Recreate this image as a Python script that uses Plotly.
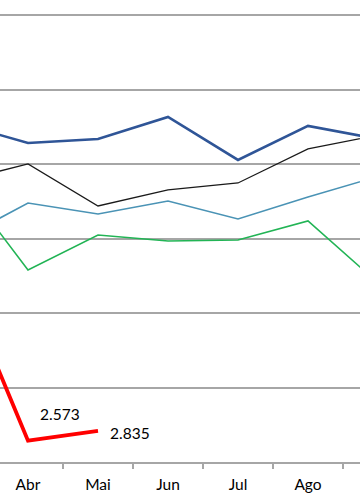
import plotly.graph_objects as go

months = ["Mar", "Abr", "Mai", "Jun", "Jul", "Ago", "Set"]

serie_azul = [11100, 10565, 10673, 11263, 10109, 11022, 10673]
serie_preta = [9531, 10001, 8874, 9303, 9491, 10404, 10780]
serie_teal = [7947, 8954, 8659, 9008, 8525, 9115, 9666]
serie_verde = [9639, 7155, 8095, 7934, 7961, 8471, 6806]
serie_vermelha = [7080, 2573, 2835]

series = [
    ("Série 1", serie_azul, "#2F5597", 2.6),
    ("Série 2", serie_preta, "#1a1a1a", 1.3),
    ("Série 3", serie_teal, "#4A93B5", 1.6),
    ("Série 4", serie_verde, "#22B455", 1.6),
    ("Série 5", serie_vermelha, "#FF0000", 3.8),
]

fig = go.Figure()
for name, vals, color, w in series:
    fig.add_trace(go.Scatter(
        x=months[:len(vals)], y=vals, name=name, mode="lines",
        line=dict(color=color, width=w), showlegend=False,
    ))

def fmt(v):
    return f"{v:,}".replace(",", ".")

label_shifts = {1: (32, 27), 2: (32, -2)}
for i, (xs, ys) in label_shifts.items():
    fig.add_annotation(
        x=months[i], y=serie_vermelha[i], text=fmt(serie_vermelha[i]),
        showarrow=False, xshift=xs, yshift=ys,
        font=dict(family="Lato", size=15.5, color="#000000"),
    )

fig.update_layout(
    width=360, height=504,
    margin=dict(l=0, r=0, t=0, b=42),
    paper_bgcolor="white", plot_bgcolor="white",
    font=dict(family="Lato", size=15, color="#000000"),
    xaxis=dict(
        type="category", categoryorder="array", categoryarray=months,
        range=[0.6, 5.743], showgrid=False, zeroline=False,
        showline=True, linecolor="#A6A6A6", linewidth=1.5,
        ticks="outside", tickson="boundaries", ticklen=5, tickwidth=1.5,
        tickcolor="#A6A6A6", tickfont=dict(family="Lato", size=15.5, color="#000000"),
        ticklabelstandoff=8,
        fixedrange=True,
    ),
    yaxis=dict(
        range=[2000, 14403], dtick=2000, tick0=2000,
        showgrid=True, gridcolor="#A6A6A6", gridwidth=1.5,
        zeroline=False, showticklabels=False, showline=False,
        fixedrange=True,
    ),
)

fig.write_html(
    "out.html",
    config={"displayModeBar": False},
    post_script="document.body.style.margin='0';document.body.style.overflow='hidden';",
)
